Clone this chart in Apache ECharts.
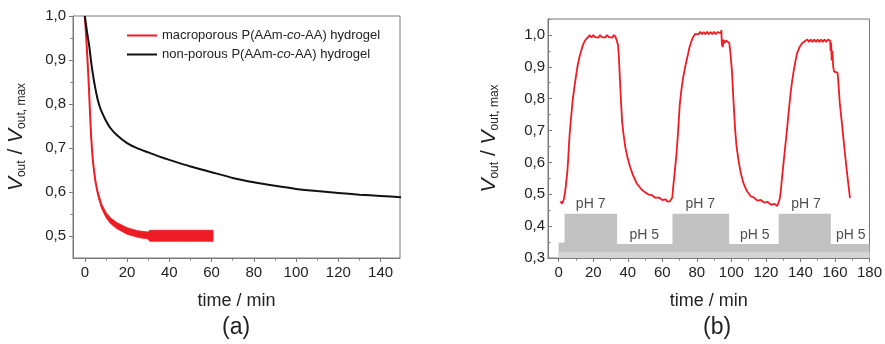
<!DOCTYPE html>
<html>
<head>
<meta charset="utf-8">
<script src="https://cdn.jsdelivr.net/npm/echarts@6/dist/echarts.min.js"></script>
<style>
html,body{margin:0;padding:0;background:#fff;}
#c{width:885px;height:344px;}
</style>
</head>
<body>
<div id="c"></div>
<script>
// ---------- Panel (a) data ----------
const aTickX = [0, 20, 40, 60, 80, 100, 120, 140];
const aMinorX = [10, 30, 50, 70, 90, 110, 130, 150];
const aTickY = [0.5, 0.6, 0.7, 0.8, 0.9, 1.0];
const aMinorY = [0.55, 0.65, 0.75, 0.85, 0.95];

const aRedT = [0, 0.4, 0.8, 1.2, 1.6, 2.0, 2.4, 3.0, 3.5, 4.0, 5.0, 6.0, 7.0, 8.0, 10, 12, 15, 20, 25, 30];
const aRedV = [1.0, 0.97, 0.94, 0.905, 0.87, 0.83, 0.785, 0.725, 0.69, 0.662, 0.625, 0.600, 0.582, 0.567, 0.548, 0.535, 0.524, 0.512, 0.505, 0.501];

// envelope of the noisy red trace
const aBandT = [6, 8, 10, 12, 15, 20, 25, 30, 30.7, 40, 50, 60.7];
const aBandLow = [0.597, 0.562, 0.542, 0.529, 0.517, 0.504, 0.497, 0.493, 0.488, 0.488, 0.488, 0.488];
const aBandHigh = [0.604, 0.572, 0.554, 0.542, 0.531, 0.519, 0.512, 0.509, 0.513, 0.513, 0.513, 0.513];

const aBlackT = [0, 1, 2, 3, 4, 5, 6, 7, 8, 10, 12, 15, 20, 25, 30, 35, 40, 50, 60, 70, 80, 90, 100, 110, 120, 130, 140, 150];
const aBlackV = [1.0, 0.965, 0.935, 0.895, 0.862, 0.835, 0.812, 0.795, 0.782, 0.762, 0.746, 0.730, 0.711, 0.699, 0.690, 0.681, 0.673, 0.658, 0.645, 0.632, 0.622, 0.614, 0.607, 0.602, 0.598, 0.594, 0.591, 0.588];

const aNames = ['macroporous P(AAm-co-AA) hydrogel', 'non-porous P(AAm-co-AA) hydrogel'];

// ---------- Panel (b) data ----------
const bTickX = [0, 20, 40, 60, 80, 100, 120, 140, 160, 180];
const bMinorX = [10, 30, 50, 70, 90, 110, 130, 150, 170];
const bTickY = [0.3, 0.4, 0.5, 0.6, 0.7, 0.8, 0.9, 1.0];
const bMinorY = [0.35, 0.45, 0.55, 0.65, 0.75, 0.85, 0.95, 1.05];

const bRedT = [1.0, 1.5, 2.0, 2.5, 3.0, 3.5, 4.0, 4.5, 5.0, 5.5, 6.0, 6.5, 7.0, 8.0, 9.0, 10, 11, 12, 13, 14, 15, 16, 17,
  18, 19, 20, 21, 22, 23, 24, 25, 26, 27, 28, 29, 30, 31, 32, 33, 33.8,
  34.3, 34.8, 35.3, 35.7, 36.2, 36.7, 37.5, 38.6, 40.0, 41.4, 43.0, 45.3, 48, 50, 52, 54, 56, 58, 60, 62, 63, 64.4, 65.3,
  65.8, 66.3, 67.2, 68.2, 69.2, 70.1, 71.0, 72, 73, 73.9, 75, 75.8, 77, 77.8, 79,
  80, 81, 82, 83, 84, 85, 86, 87, 88, 89, 90, 91, 92, 93, 94.0,
  94.2, 94.5, 95.0, 95.5, 96, 97, 98, 98.8,
  99.5, 100.3, 101.3, 102.2, 103, 104.1, 105.5, 107, 109, 111.3, 113, 115, 117, 119, 121, 123, 125, 126.6, 127.3,
  128, 128.5, 129.5, 130.4, 131.4, 132.4, 133.4, 134.3, 135.2, 136.2, 137.2, 138.1, 139.5, 141, 142.5,
  144, 145, 146, 147, 148, 149, 150, 151, 152, 153, 154, 155, 156, 157.2,
  157.5, 157.8, 158.1, 158.5, 159, 159.5, 160.5, 161.5, 162.0, 162.8, 163.8, 164.8, 165.8, 166.8, 167.8, 168.7];
const bRedV = [0.478, 0.472, 0.470, 0.478, 0.485, 0.500, 0.520, 0.545, 0.570, 0.610, 0.660, 0.700, 0.730, 0.790, 0.833, 0.870, 0.905, 0.930, 0.950, 0.968, 0.980, 0.988, 0.992,
  0.999, 0.992, 1.000, 0.993, 0.999, 0.992, 1.000, 0.993, 0.999, 0.992, 1.000, 0.993, 0.999, 0.992, 1.000, 0.993, 0.995,
  0.970, 0.937, 0.880, 0.833, 0.780, 0.730, 0.690, 0.647, 0.612, 0.585, 0.560, 0.533, 0.515, 0.506, 0.499, 0.497, 0.489, 0.490, 0.482, 0.484, 0.477, 0.478, 0.474,
  0.490, 0.522, 0.570, 0.626, 0.700, 0.780, 0.825, 0.864, 0.893, 0.916, 0.942, 0.962, 0.982, 0.993, 1.003,
  1.009, 1.002, 1.010, 1.002, 1.009, 1.002, 1.010, 1.002, 1.009, 1.002, 1.010, 1.002, 1.009, 1.003, 1.006,
  1.015, 0.970, 0.962, 0.985, 0.975, 0.982, 0.980, 0.975,
  0.940, 0.890, 0.786, 0.702, 0.650, 0.608, 0.565, 0.535, 0.510, 0.493, 0.490, 0.480, 0.482, 0.474, 0.476, 0.467, 0.470, 0.463, 0.466,
  0.485, 0.504, 0.560, 0.608, 0.660, 0.713, 0.770, 0.817, 0.855, 0.890, 0.920, 0.943, 0.962, 0.974, 0.980,
  0.986, 0.978, 0.986, 0.978, 0.986, 0.978, 0.986, 0.978, 0.986, 0.978, 0.986, 0.978, 0.986, 0.982,
  0.950, 0.975, 0.920, 0.950, 0.900, 0.885, 0.888, 0.882, 0.850, 0.786, 0.735, 0.681, 0.628, 0.577, 0.530, 0.488];

// pH program (step profile)
const phT = [0, 3.4, 33.8, 65.9, 98.7, 127.4, 157.6, 180];
const phV = [0.349, 0.439, 0.344, 0.439, 0.344, 0.439, 0.344, 0.344];
const baseT = [0, 180];
const baseV = [0.32, 0.32];

const phLabelT = [18.5, 49.6, 82, 113.6, 143.2, 169.2];
const phLabelV = [0.469, 0.373, 0.469, 0.373, 0.469, 0.373];
const phLabelText = ['pH 7', 'pH 5', 'pH 7', 'pH 5', 'pH 7', 'pH 5'];

// ---------- build ----------
const zip = (a, b) => a.map((x, i) => [x, b[i]]);
const FONT = '"Liberation Sans", Arial, sans-serif';
const AX = '#7a7a7a';
const TXT = '#222';
const RED = '#ee1c24';
const fmt = v => v.toFixed(1).replace('.', ',');

const yName = '{i|V}{s|out}{n| / }{i|V}{s|out, max}';
const nameRich = {
  i: {fontSize: 21, fontStyle: 'italic', fontFamily: FONT, color: TXT, lineHeight: 19, verticalAlign: 'top'},
  n: {fontSize: 21, fontFamily: FONT, color: TXT, lineHeight: 19, verticalAlign: 'top'},
  s: {fontSize: 12, fontFamily: FONT, color: TXT, lineHeight: 31}
};

function mainX(grid, min, max, ticks, inside) {
  return {
    gridIndex: grid, type: 'value', min: min, max: max, position: 'bottom',
    name: 'time / min', nameLocation: 'middle', nameGap: 34,
    nameTextStyle: {fontSize: 18, fontFamily: FONT, color: TXT},
    axisLine: {show: true, onZero: false, lineStyle: {color: AX, width: 1}},
    axisTick: {show: true, inside: inside, length: 4, customValues: ticks, lineStyle: {color: AX}},
    axisLabel: {show: true, customValues: ticks, fontSize: 15, fontFamily: FONT, color: TXT, margin: 7},
    splitLine: {show: false}
  };
}
function minorX(grid, min, max, ticks, inside) {
  return {
    gridIndex: grid, type: 'value', min: min, max: max, position: 'bottom',
    axisLine: {show: false, onZero: false},
    axisTick: {show: true, inside: inside, length: 2.5, customValues: ticks, lineStyle: {color: AX}},
    axisLabel: {show: false}, splitLine: {show: false}
  };
}
function mainY(grid, min, max, ticks, inside, gap) {
  return {
    gridIndex: grid, type: 'value', min: min, max: max, position: 'left',
    name: yName, nameLocation: 'middle', nameGap: gap, nameRotate: 90,
    nameTextStyle: {rich: nameRich},
    axisLine: {show: true, onZero: false, lineStyle: {color: AX, width: 1}},
    axisTick: {show: true, inside: inside, length: 4, customValues: ticks, lineStyle: {color: AX}},
    axisLabel: {show: true, customValues: ticks, formatter: fmt, fontSize: 15, fontFamily: FONT, color: TXT, margin: inside ? 3 : 7},
    splitLine: {show: false}
  };
}
function minorY(grid, min, max, ticks, inside) {
  return {
    gridIndex: grid, type: 'value', min: min, max: max, position: 'left',
    axisLine: {show: false, onZero: false},
    axisTick: {show: true, inside: inside, length: 2.5, customValues: ticks, lineStyle: {color: AX}},
    axisLabel: {show: false}, splitLine: {show: false}
  };
}

const aXmin = -5.6, aXmax = 149.2, aYmin = 0.45, aYmax = 1.0;
const bXmin = -6.2, bXmax = 180, bYmin = 0.3, bYmax = 1.05;

// polygon of the noisy band, placed through the axes' coordinate system
function renderBand(params, api) {
  const pts = [];
  for (let i = 0; i < aBandT.length; i++) pts.push(api.coord([aBandT[i], aBandHigh[i]]));
  for (let i = aBandT.length - 1; i >= 0; i--) pts.push(api.coord([aBandT[i], aBandLow[i]]));
  return {type: 'polygon', shape: {points: pts}, style: {fill: RED, stroke: RED, lineWidth: 0.8}};
}

const option = {
  animation: false,
  backgroundColor: '#fff',
  textStyle: {fontFamily: FONT},
  grid: [
    {left: 73, top: 16, width: 327, height: 242, show: true, borderColor: AX, borderWidth: 1, backgroundColor: 'transparent'},
    {left: 548, top: 19, width: 325, height: 239, show: true, borderColor: AX, borderWidth: 1, backgroundColor: 'transparent'}
  ],
  xAxis: [
    mainX(0, aXmin, aXmax, aTickX, false),
    minorX(0, aXmin, aXmax, aMinorX, false),
    mainX(1, bXmin, bXmax, bTickX, false),
    minorX(1, bXmin, bXmax, bMinorX, false)
  ],
  yAxis: [
    mainY(0, aYmin, aYmax, aTickY, false, 36),
    minorY(0, aYmin, aYmax, aMinorY, false),
    mainY(1, bYmin, bYmax, bTickY, true, 38),
    minorY(1, bYmin, bYmax, bMinorY, true)
  ],
  legend: {
    data: aNames.map(n => ({name: n, icon: 'rect'})),
    orient: 'vertical',
    left: 122, top: 23,
    itemWidth: 30, itemHeight: 2, itemGap: 4,
    formatter: n => n.replace('-co-', '-{it|co}-'),
    textStyle: {fontSize: 13, fontFamily: FONT, color: TXT, lineHeight: 15,
      rich: {it: {fontStyle: 'italic', fontSize: 13, fontFamily: FONT, color: TXT, lineHeight: 15}}}
  },
  series: [
    // panel (a)
    {type: 'custom', name: 'band', xAxisIndex: 0, yAxisIndex: 0, data: [[aBandT[0], aBandLow[0]]],
      renderItem: renderBand, silent: true, z: 2, clip: true},
    {type: 'line', name: aNames[0], xAxisIndex: 0, yAxisIndex: 0, data: zip(aRedT, aRedV),
      symbol: 'none', color: RED, lineStyle: {width: 2, color: RED}, z: 3},
    {type: 'line', name: aNames[1], xAxisIndex: 0, yAxisIndex: 0, data: zip(aBlackT, aBlackV), smooth: 0.2,
      symbol: 'none', color: '#111', lineStyle: {width: 2, color: '#111'}, z: 3},
    // panel (b)
    {type: 'line', name: 'pH', xAxisIndex: 2, yAxisIndex: 2, data: zip(phT, phV), step: 'end',
      symbol: 'none', lineStyle: {width: 0}, areaStyle: {color: '#c1c1c1', opacity: 1, origin: 'start'}, silent: true, z: 1},
    {type: 'line', name: 'base', xAxisIndex: 2, yAxisIndex: 2, data: zip(baseT, baseV),
      symbol: 'none', lineStyle: {width: 0}, areaStyle: {color: '#d4d4d4', opacity: 1, origin: 'start'}, silent: true, z: 1},
    {type: 'scatter', name: 'phLabels', xAxisIndex: 2, yAxisIndex: 2,
      data: phLabelT.map((t, i) => ({value: [t, phLabelV[i]], label: {formatter: phLabelText[i]}})),
      symbolSize: 0, silent: true, z: 4,
      label: {show: true, position: 'inside', fontSize: 14, fontFamily: FONT, color: TXT}},
    {type: 'line', name: 'response', xAxisIndex: 2, yAxisIndex: 2, data: zip(bRedT, bRedV),
      symbol: 'none', lineStyle: {width: 1.8, color: RED}, z: 3}
  ],
  graphic: [
    {type: 'text', left: 222, top: 316, style: {text: '(a)', fontSize: 23, fontFamily: FONT, fill: TXT}},
    {type: 'text', left: 703, top: 316, style: {text: '(b)', fontSize: 23, fontFamily: FONT, fill: TXT}}
  ]
};

const chart = echarts.init(document.getElementById('c'), null, {renderer: 'canvas'});
chart.setOption(option);
</script>
</body>
</html>
